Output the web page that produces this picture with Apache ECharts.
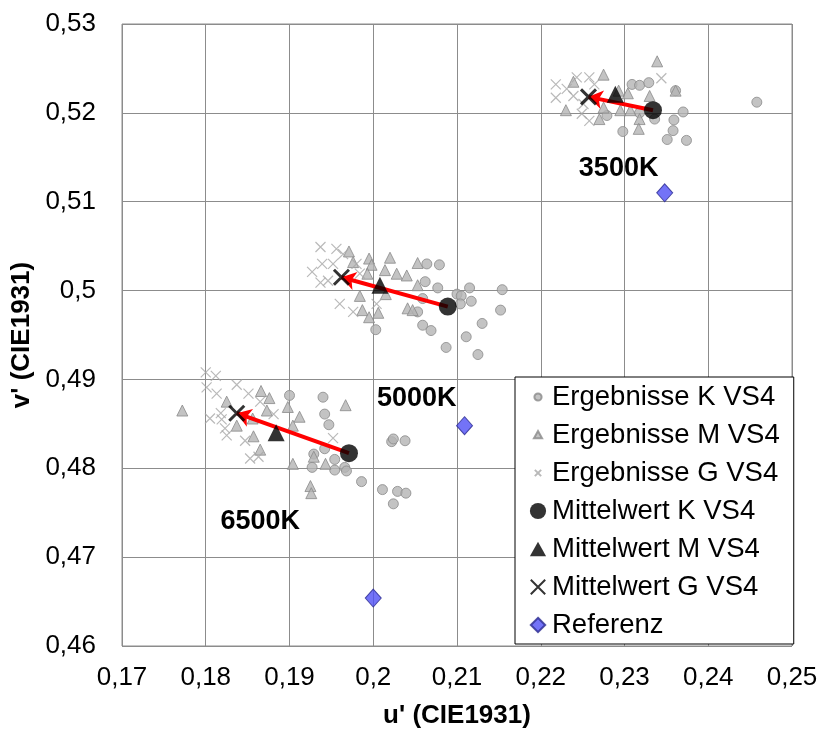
<!DOCTYPE html>
<html><head><meta charset="utf-8">
<script src="https://cdn.jsdelivr.net/npm/echarts@6/dist/echarts.min.js"></script>
<style>html,body{margin:0;padding:0;background:#fff}#c{width:822px;height:730px}</style>
</head><body><div id="c"></div>
<script>
// Results K (circles)
const resultsK = [
  [0.2309,0.5232],[0.2318,0.5231],[0.2329,0.5234],[0.2361,0.5225],[0.2370,0.5201],[0.2359,0.5192],
  [0.2358,0.5180],[0.2351,0.5170],[0.2374,0.5169],[0.2298,0.5179],[0.2279,0.5197],[0.2318,0.5200],
  [0.2336,0.5193],[0.2458,0.5212],
  [0.2064,0.5030],[0.2079,0.5029],[0.2062,0.5010],[0.2077,0.5003],[0.2059,0.4991],[0.2053,0.4976],
  [0.2059,0.4961],[0.2069,0.4955],[0.2003,0.4956],[0.2100,0.4996],[0.2105,0.4994],[0.2104,0.4985],
  [0.2117,0.4988],[0.2115,0.5003],[0.2154,0.5001],[0.2152,0.4978],[0.2130,0.4963],[0.2111,0.4948],
  [0.2125,0.4928],[0.2087,0.4936],
  [0.1900,0.4882],[0.1940,0.4880],[0.1942,0.4861],[0.1947,0.4849],[0.1942,0.4822],[0.1929,0.4816],
  [0.1927,0.4801],[0.1954,0.4810],[0.1954,0.4798],[0.1966,0.4801],[0.1968,0.4797],[0.1986,0.4785],
  [0.2022,0.4830],[0.2024,0.4833],[0.2038,0.4831],[0.2011,0.4776],[0.2029,0.4774],[0.2039,0.4772],
  [0.2024,0.4760]
];
// Results M (triangles)
const resultsM = [
  [0.2339,0.5258],[0.2361,0.5225],[0.2330,0.5219],[0.2304,0.5222],[0.2293,0.5225],[0.2275,0.5243],
  [0.2239,0.5235],[0.2230,0.5203],[0.2275,0.5206],[0.2295,0.5203],[0.2307,0.5203],[0.2270,0.5193],
  [0.2318,0.5193],[0.2317,0.5182],
  [0.1971,0.5044],[0.1995,0.5036],[0.2020,0.5037],[0.1998,0.5029],[0.2014,0.5023],[0.2028,0.5019],
  [0.2040,0.5017],[0.2053,0.5031],[0.1993,0.5019],[0.2053,0.5006],[0.1984,0.4994],[0.2015,0.4996],
  [0.1987,0.4978],[0.1995,0.4970],[0.2006,0.4975],[0.2041,0.4980],[0.2047,0.4978],[0.1976,0.5032],
  [0.1772,0.4865],[0.1825,0.4875],[0.1837,0.4848],[0.1856,0.4856],[0.1857,0.4836],[0.1865,0.4821],
  [0.1866,0.4887],[0.1876,0.4879],[0.1873,0.4865],[0.1898,0.4869],[0.1912,0.4858],[0.1904,0.4848],
  [0.1904,0.4805],[0.1929,0.4813],[0.1943,0.4805],[0.1925,0.4780],[0.1926,0.4772],[0.1967,0.4871]
];
// Results G (crosses)
const resultsG = [
  [0.2218,0.5232],[0.2218,0.5217],[0.2243,0.5240],[0.2258,0.5240],[0.2239,0.5219],[0.2249,0.5199],
  [0.2258,0.5191],[0.2344,0.5239],[0.2264,0.5232],[0.2231,0.5227],[0.2251,0.5210],
  [0.1937,0.5049],[0.1956,0.5047],[0.1964,0.5041],[0.1939,0.5030],[0.1927,0.5021],[0.1952,0.5030],
  [0.1937,0.5009],[0.1946,0.5011],[0.1980,0.5030],[0.1960,0.4985],[0.1976,0.4976],[0.2004,0.4985],
  [0.1984,0.5019],
  [0.1800,0.4908],[0.1812,0.4904],[0.1801,0.4891],[0.1813,0.4884],[0.1837,0.4894],[0.1851,0.4884],
  [0.1805,0.4856],[0.1819,0.4855],[0.1823,0.4845],[0.1825,0.4837],[0.1847,0.4831],[0.1853,0.4811],
  [0.1863,0.4813],[0.1881,0.4861],[0.1865,0.4875],[0.1952,0.4834],[0.1818,0.4862]
];
const meanK = [[0.2334,0.5203],[0.2089,0.4982],[0.1971,0.4817]];
const meanM = [[0.2289,0.5221],[0.2008,0.5006],[0.1884,0.4840]];
const meanG = [[0.2257,0.5218],[0.1962,0.5015],[0.1837,0.4862]];
const referenz = [[0.2348,0.5110],[0.2109,0.4848],[0.2000,0.4654]];
const cctNames = ['3500K','5000K','6500K'];
const cctLabelPos = [[0.2293,0.5137],[0.2052,0.4879],[0.1865,0.4740]];
const xTicks = {min:0.17, max:0.25, step:0.01};
const yTicks = {min:0.46, max:0.53, step:0.01};
const legendNames = ['Ergebnisse K VS4','Ergebnisse M VS4','Ergebnisse G VS4','Mittelwert K VS4','Mittelwert M VS4','Mittelwert G VS4','Referenz'];

const FONT = 'Arial, "Liberation Sans", sans-serif';
const crossPath = 'path://M0,0L10,10M10,0L0,10';
// legend icons (small variants padded inside a 20x20 box)
const smallCircle = 'path://M0,0M20,20M6,10A4,4,0,1,0,14,10A4,4,0,1,0,6,10Z';
const smallTri = 'path://M0,0M20,20M10,5.5L14.5,13.5L5.5,13.5Z';
const smallCross = 'path://M0,0M20,20M6.5,6.5L13.5,13.5M13.5,6.5L6.5,13.5';
const bigCircle = 'path://M0,0M20,20M1,10A9,9,0,1,0,19,10A9,9,0,1,0,1,10Z';
const bigTri = 'path://M0,0M20,20M10,2L19,18L1,18Z';
const bigCross = 'path://M0,0M20,20M2,2L18,18M18,2L2,18';
const bigDiamond = 'path://M0,0M20,20M10,2L18,10L10,18L2,10Z';
const legendIcons = [smallCircle, smallTri, smallCross, bigCircle, bigTri, bigCross, bigDiamond];

const fmt = v => (Math.round(v*100)/100).toString().replace('.', ',');
const arrows = meanK.map((k,i) => ({coords:[k, meanG[i]]}));
const cctLabels = cctLabelPos.map((p,i) => ({value:p, name:cctNames[i]}));

const chart = echarts.init(document.getElementById('c'), null, {renderer:'canvas'});
chart.setOption({
  animation:false,
  backgroundColor:'#fff',
  textStyle:{fontFamily:FONT},
  grid:{left:122, right:30, top:24, bottom:84, show:true, borderColor:'#8c8c8c', borderWidth:1,
    containLabel:false, outerBoundsMode:'none'},
  xAxis:{type:'value', min:xTicks.min, max:xTicks.max, interval:xTicks.step,
    name:"u' (CIE1931)", nameLocation:'middle', nameGap:57,
    nameTextStyle:{fontSize:26, fontWeight:'bold', color:'#000', fontFamily:FONT},
    axisLine:{show:false}, axisTick:{show:false},
    axisLabel:{formatter:fmt, fontSize:26, color:'#000', margin:19, fontFamily:FONT},
    splitLine:{show:true, lineStyle:{color:'#8c8c8c', width:1}}},
  yAxis:{type:'value', min:yTicks.min, max:yTicks.max, interval:yTicks.step,
    name:"v' (CIE1931)", nameLocation:'middle', nameGap:84, nameRotate:90,
    nameTextStyle:{fontSize:26, fontWeight:'bold', color:'#000', fontFamily:FONT},
    axisLine:{show:false}, axisTick:{show:false},
    axisLabel:{formatter:fmt, fontSize:26, color:'#000', margin:26, fontFamily:FONT},
    splitLine:{show:true, lineStyle:{color:'#8c8c8c', width:1}}},
  legend:{orient:'vertical', left:515, top:377,
    backgroundColor:'#fff', borderColor:'#000', borderWidth:1,
    padding:[6,14,5,13], itemGap:10, itemWidth:18, itemHeight:18,
    textStyle:{fontSize:27.5, lineHeight:28, color:'#000', fontFamily:FONT},
    data:legendNames.map((n,i) => ({name:n, icon:legendIcons[i]}))},
  series:[
    {name:legendNames[0], type:'scatter', data:resultsK, symbol:'circle', symbolSize:10, z:2,
      itemStyle:{color:'#b4b4b4', borderColor:'#8a8a8a', borderWidth:1}},
    {name:legendNames[1], type:'scatter', data:resultsM, symbol:'triangle', symbolSize:11, z:2,
      itemStyle:{color:'#b4b4b4', borderColor:'#8a8a8a', borderWidth:1}},
    {name:legendNames[2], type:'scatter', data:resultsG, symbol:crossPath, symbolSize:10, z:2,
      itemStyle:{color:'rgba(0,0,0,0)', borderColor:'#a8a8a8', borderWidth:1.2}},
    {name:'Pfeile', type:'lines', coordinateSystem:'cartesian2d', data:arrows, z:3,
      symbol:['none','arrow'], symbolSize:14,
      lineStyle:{color:'#ff0000', width:4, opacity:1}},
    {name:legendNames[3], type:'scatter', data:meanK, symbol:'circle', symbolSize:18, z:4,
      itemStyle:{color:'#000'}},
    {name:legendNames[4], type:'scatter', data:meanM, symbol:'triangle', symbolSize:17, z:4,
      itemStyle:{color:'#000'}},
    {name:legendNames[5], type:'scatter', data:meanG, symbol:crossPath, symbolSize:15, z:4,
      itemStyle:{color:'rgba(0,0,0,0)', borderColor:'#000', borderWidth:3}},
    {name:legendNames[6], type:'scatter', data:referenz, symbol:'diamond', symbolSize:[16,18], z:4,
      itemStyle:{color:'#5050f5', borderColor:'#2a2a90', borderWidth:1}},
    {name:'CCT', type:'scatter', data:cctLabels, symbolSize:0, z:5, silent:true,
      itemStyle:{color:'#000', opacity:0},
      label:{show:true, position:'inside', formatter:p=>p.name, fontSize:27, fontWeight:'bold',
        color:'#000', textBorderWidth:0, textBorderColor:'transparent', opacity:1, fontFamily:FONT}}
  ]
});
</script></body></html>
